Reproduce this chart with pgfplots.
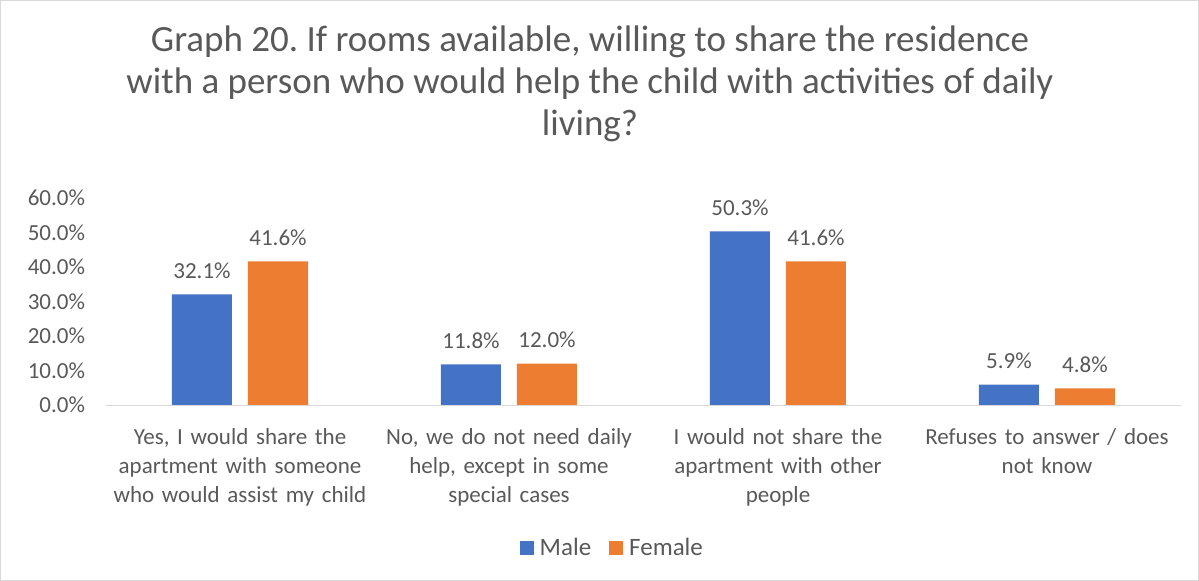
\documentclass[border=0pt]{standalone}
\usepackage{pgfplots}
\pgfplotsset{compat=1.18}
\usepackage{fontspec}
\setmainfont{Carlito}
\frenchspacing
\definecolor{cblue}{HTML}{4472C4}
\definecolor{corange}{HTML}{ED7D31}
\definecolor{ctext}{HTML}{595959}
\definecolor{caxis}{HTML}{D9D9D9}
\begin{document}
\begin{tikzpicture}
\path[use as bounding box] (0bp,0bp) rectangle (1199bp,581bp);
\draw[caxis] (0.5bp,0.5bp) rectangle (1198.5bp,580.5bp);
\node[text=ctext, align=center, font=\fontsize{37bp}{42bp}\selectfont] at (590bp,497bp)
 {Graph 20. If rooms available, willing to share the residence\\with a person who would help the child with activities of daily\\living?};
\begin{axis}[
  at={(105.5bp,176bp)}, anchor=south west,
  scale only axis, width=1076bp, height=207bp,
  xmin=-0.5, xmax=3.5, ymin=0, ymax=60,
  ybar=16bp, bar width=60bp,
  axis x line=bottom, axis y line=left,
  x axis line style={draw=caxis, -},
  y axis line style={draw=none},
  major tick length=0,
  /pgf/number format/assume math mode=true,
  xtick={0,1,2,3},
  xticklabels={{Yes, I would share the\\apartment with someone\\who would assist my child},
               {No, we do not need daily\\help, except in some\\special cases},
               {I would not share the\\apartment with other\\people},
               {Refuses to answer / does\\not know}},
  xticklabel style={align=center, text width=265bp, font=\fontsize{23bp}{29bp}\selectfont, text=ctext, yshift=-20bp},
  ytick={0,10,20,30,40,50,60},
  yticklabels={0.0\%,10.0\%,20.0\%,30.0\%,40.0\%,50.0\%,60.0\%},
  yticklabel style={font=\fontsize{23bp}{26bp}\selectfont, text=ctext, xshift=-17bp},
  nodes near coords={\pgfmathprintnumber[fixed,fixed zerofill,precision=1,assume math mode=true]{\pgfplotspointmeta}\%},
  every node near coord/.append style={font=\fontsize{23bp}{26bp}\selectfont, text=ctext, yshift=12bp},
  legend style={at={(0.471,-0.69)}, anchor=center, draw=none, legend columns=2,
    font=\fontsize{25bp}{28bp}\selectfont, text=ctext,
    /tikz/every even column/.append style={column sep=16bp}},
  legend image code/.code={\fill[#1] (0bp,-7bp) rectangle (14bp,7bp); \path (0bp,0bp) -- (18bp,0bp);},
]
\addplot[fill=cblue, draw=none] coordinates {(0,32.1) (1,11.8) (2,50.3) (3,5.9)};
\addplot[fill=corange, draw=none] coordinates {(0,41.6) (1,12.0) (2,41.6) (3,4.8)};
\legend{Male, Female}
\end{axis}
\end{tikzpicture}
\end{document}
